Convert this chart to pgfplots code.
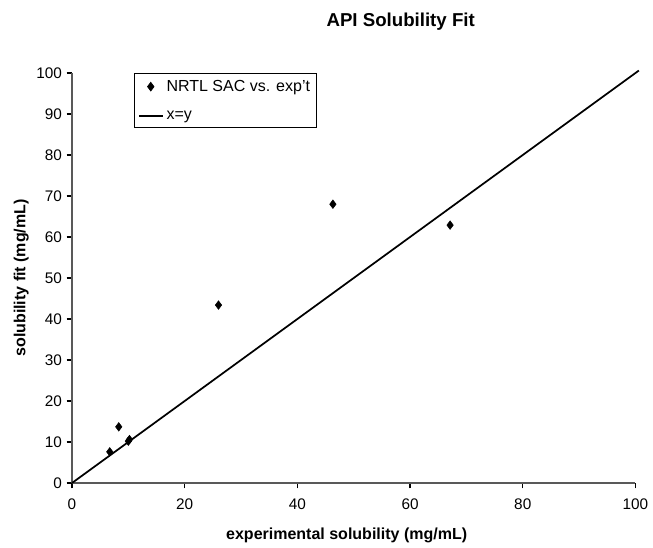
\documentclass[border=0pt]{standalone}
\usepackage{pgfplots}
\pgfplotsset{compat=1.18}
\usepackage{fontspec}
\setmainfont{Liberation Sans}
\begin{document}
\begin{tikzpicture}
\useasboundingbox (-54pt,-48pt) rectangle (435.75pt,362.25pt);
\begin{axis}[
  at={(0,0)}, anchor=south west,
  scale only axis, width=422.6pt, height=307.5pt,
  xmin=0, xmax=100, ymin=0, ymax=100,
  xtick={0,20,...,100}, ytick={0,10,...,100},
  axis x line*=bottom, axis y line*=left,
  axis line style={draw=black!65, line width=0.9pt},
  tick style={draw=black, line width=0.9pt},
  tick align=outside, major tick length=4pt,
  /pgf/number format/assume math mode=true,
  tick label style={font=\fontsize{11.5}{13}\selectfont},
  xticklabel style={yshift=-4pt},
  clip=false,
  legend style={at={(rel axis cs:0.110,1.0)}, anchor=north west,
    draw=black, line width=0.6pt, font=\fontsize{12}{14}\selectfont,
    inner sep=3pt, row sep=9pt, cells={anchor=west}},
  legend cell align=left,
]
\addplot[only marks, mark=diamond*, mark size=3.2pt, black] coordinates {
  (6.7,7.6) (8.3,13.7) (10.0,10.2) (10.2,10.6) (26.0,43.4) (46.3,68.0) (67.1,62.9)
};
\addlegendentry{NRTL SAC vs. exp't}
\addplot[black, line width=1.3pt,
  legend image code/.code={\draw[black, line width=1.5pt] (0cm,0cm) -- (0.62cm,0cm);}]
  coordinates {(0,0) (100.6,100.6)};
\addlegendentry{x=y}
\end{axis}
\node[font=\bfseries\fontsize{14}{16}\selectfont] at (246.5pt,346pt) {API Solubility Fit};
\node[font=\bfseries\fontsize{12}{14}\selectfont] at (206pt,-39pt) {experimental solubility (mg/mL)};
\node[font=\bfseries\fontsize{12}{14}\selectfont, rotate=90] at (-38pt,153.75pt) {solubility fit (mg/mL)};
\end{tikzpicture}
\end{document}
